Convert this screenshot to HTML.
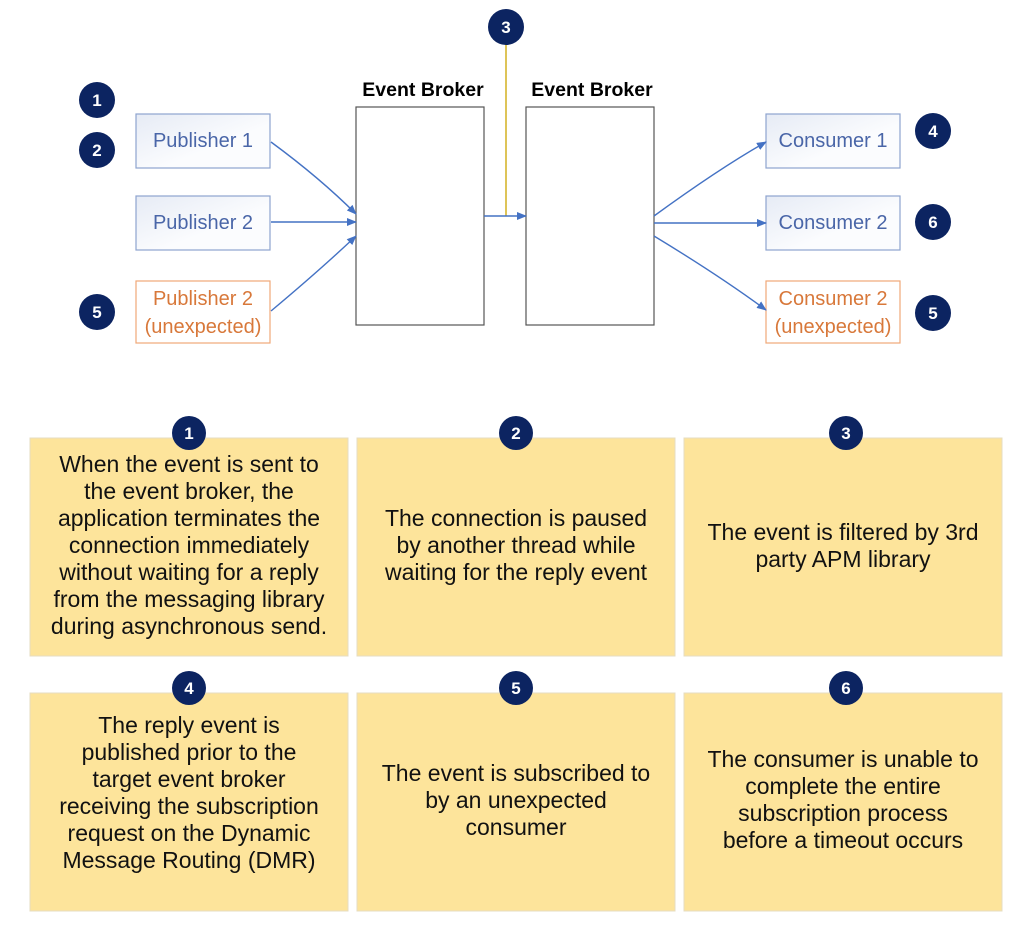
<!DOCTYPE html>
<html><head><meta charset="utf-8"><style>
html,body{margin:0;padding:0;background:#fff;}
svg{display:block;}
</style></head><body>
<svg width="1024" height="929" viewBox="0 0 1024 929" xmlns="http://www.w3.org/2000/svg" font-family="'Liberation Sans', Arial, sans-serif">
<defs>
<marker id="ah" markerWidth="10" markerHeight="8" refX="9" refY="4" orient="auto" markerUnits="userSpaceOnUse"><path d="M0,0 L10,4 L0,8 z" fill="#4472c4"/></marker>
<linearGradient id="bg" x1="0" y1="0" x2="1" y2="1"><stop offset="0" stop-color="#e6ebf5"/><stop offset="0.6" stop-color="#fbfcfe"/></linearGradient>
</defs>
<rect x="136" y="114" width="134" height="54" fill="url(#bg)" stroke="#8ea4cf" stroke-width="1.2"/>
<text x="203" y="147" font-size="20" fill="#4a66a8" text-anchor="middle">Publisher 1</text>
<rect x="136" y="196" width="134" height="54" fill="url(#bg)" stroke="#8ea4cf" stroke-width="1.2"/>
<text x="203" y="229" font-size="20" fill="#4a66a8" text-anchor="middle">Publisher 2</text>
<rect x="136" y="281" width="134" height="62" fill="#fff" stroke="#f0a877" stroke-width="1.2"/>
<text x="203" y="305" font-size="20" fill="#d8783a" text-anchor="middle">Publisher 2</text>
<text x="203" y="333" font-size="20" fill="#d8783a" text-anchor="middle">(unexpected)</text>
<rect x="766" y="114" width="134" height="54" fill="url(#bg)" stroke="#8ea4cf" stroke-width="1.2"/>
<text x="833" y="147" font-size="20" fill="#4a66a8" text-anchor="middle">Consumer 1</text>
<rect x="766" y="196" width="134" height="54" fill="url(#bg)" stroke="#8ea4cf" stroke-width="1.2"/>
<text x="833" y="229" font-size="20" fill="#4a66a8" text-anchor="middle">Consumer 2</text>
<rect x="766" y="281" width="134" height="62" fill="#fff" stroke="#f0a877" stroke-width="1.2"/>
<text x="833" y="305" font-size="20" fill="#d8783a" text-anchor="middle">Consumer 2</text>
<text x="833" y="333" font-size="20" fill="#d8783a" text-anchor="middle">(unexpected)</text>
<text x="423" y="96" font-size="19.5" font-weight="bold" text-anchor="middle" fill="#000">Event Broker</text>
<text x="592" y="96" font-size="19.5" font-weight="bold" text-anchor="middle" fill="#000">Event Broker</text>
<rect x="356" y="107" width="128" height="218" fill="#fff" stroke="#555" stroke-width="1.2"/>
<rect x="526" y="107" width="128" height="218" fill="#fff" stroke="#555" stroke-width="1.2"/>
<line x1="506" y1="40" x2="506" y2="216" stroke="#d4b020" stroke-width="1.5"/>
<g stroke="#4472c4" stroke-width="1.4" fill="none">
<path d="M271,142 Q320,178 356,214" marker-end="url(#ah)"/>
<line x1="271" y1="222" x2="356" y2="222" marker-end="url(#ah)"/>
<path d="M271,311 Q320,270 356,236" marker-end="url(#ah)"/>
<line x1="484" y1="216" x2="526" y2="216" marker-end="url(#ah)"/>
<path d="M654,216 Q720,168 766,142" marker-end="url(#ah)"/>
<line x1="654" y1="223" x2="766" y2="223" marker-end="url(#ah)"/>
<path d="M654,236 Q720,276 766,310" marker-end="url(#ah)"/>
</g>
<g font-size="17" font-weight="bold" fill="#fff" text-anchor="middle">
<circle cx="97" cy="100" r="18" fill="#0c2461"/><text x="97" y="106">1</text>
<circle cx="97" cy="150" r="18" fill="#0c2461"/><text x="97" y="156">2</text>
<circle cx="97" cy="312" r="18" fill="#0c2461"/><text x="97" y="318">5</text>
<circle cx="506" cy="27" r="18" fill="#0c2461"/><text x="506" y="33">3</text>
<circle cx="933" cy="131" r="18" fill="#0c2461"/><text x="933" y="137">4</text>
<circle cx="933" cy="222" r="18" fill="#0c2461"/><text x="933" y="228">6</text>
<circle cx="933" cy="313" r="18" fill="#0c2461"/><text x="933" y="319">5</text>
</g>
<g fill="#fde49b" stroke="#e6dcc0" stroke-width="1">
<rect x="30" y="438" width="318" height="218"/>
<rect x="357" y="438" width="318" height="218"/>
<rect x="684" y="438" width="318" height="218"/>
<rect x="30" y="693" width="318" height="218"/>
<rect x="357" y="693" width="318" height="218"/>
<rect x="684" y="693" width="318" height="218"/>
</g>
<g font-size="23" fill="#111" text-anchor="middle">
<text x="189" y="472">When the event is sent to</text>
<text x="189" y="499">the event broker, the</text>
<text x="189" y="526">application terminates the</text>
<text x="189" y="553">connection immediately</text>
<text x="189" y="580">without waiting for a reply</text>
<text x="189" y="607">from the messaging library</text>
<text x="189" y="634">during asynchronous send.</text>
<text x="516" y="526">The connection is paused</text>
<text x="516" y="553">by another thread while</text>
<text x="516" y="580">waiting for the reply event</text>
<text x="843" y="540">The event is filtered by 3rd</text>
<text x="843" y="567">party APM library</text>
<text x="189" y="733">The reply event is</text>
<text x="189" y="760">published prior to the</text>
<text x="189" y="787">target event broker</text>
<text x="189" y="814">receiving the subscription</text>
<text x="189" y="841">request on the Dynamic</text>
<text x="189" y="868">Message Routing (DMR)</text>
<text x="516" y="781">The event is subscribed to</text>
<text x="516" y="808">by an unexpected</text>
<text x="516" y="835">consumer</text>
<text x="843" y="767">The consumer is unable to</text>
<text x="843" y="794">complete the entire</text>
<text x="843" y="821">subscription process</text>
<text x="843" y="848">before a timeout occurs</text>
</g>
<g font-size="17" font-weight="bold" fill="#fff" text-anchor="middle">
<circle cx="189" cy="433" r="17" fill="#0c2461"/><text x="189" y="439">1</text>
<circle cx="516" cy="433" r="17" fill="#0c2461"/><text x="516" y="439">2</text>
<circle cx="846" cy="433" r="17" fill="#0c2461"/><text x="846" y="439">3</text>
<circle cx="189" cy="688" r="17" fill="#0c2461"/><text x="189" y="694">4</text>
<circle cx="516" cy="688" r="17" fill="#0c2461"/><text x="516" y="694">5</text>
<circle cx="846" cy="688" r="17" fill="#0c2461"/><text x="846" y="694">6</text>
</g>
</svg>
</body></html>
